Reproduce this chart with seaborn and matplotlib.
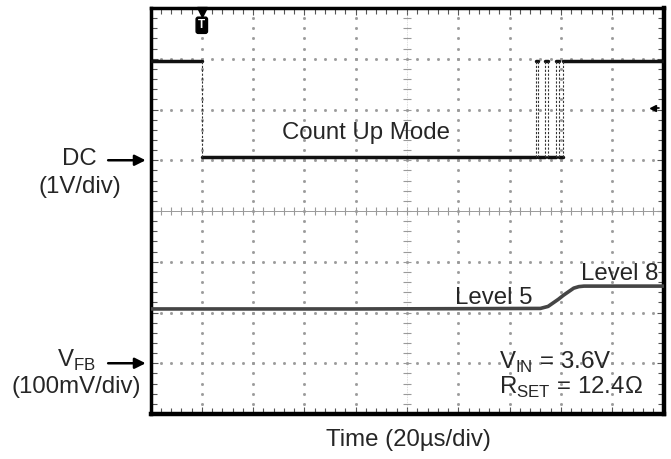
import seaborn as sns
import matplotlib.pyplot as plt
import numpy as np
import pandas as pd
from matplotlib.ticker import MultipleLocator

sns.set_style("white")
plt.rcParams['font.family'] = ['Liberation Sans', 'DejaVu Sans']
plt.rcParams['mathtext.fontset'] = 'custom'
plt.rcParams['mathtext.rm'] = 'Liberation Sans'

# Scope settings (10 x 8 divisions)
time_per_div = 20.0      # us/div
dc_volts_per_div = 1.0   # V/div
fb_volts_per_div = 0.1   # V/div
dc_ground_div = 5.0
fb_ground_div = 1.0
trigger_time = 20.0      # us
trigger_level = 1.03     # V on DC channel

# DC channel: logic levels (V) and edge times (us), starts high
dc_high = 1.95
dc_low = 0.06
dc_edges = [20.0, 150.1, 151.1, 153.8, 155.0, 158.1, 159.3, 160.9]

# VFB channel: time (us) and voltage (mV)
fb_time = [0, 40, 80, 120, 150, 152, 155, 157, 159, 161, 163, 165, 167, 169, 180, 200]
fb_mv = [107, 107, 107, 107.5, 108, 108, 112, 119, 126, 134, 141, 148, 151, 152, 152, 152]

# Build DC level segments
bounds = [0.0] + dc_edges + [10 * time_per_div]
rows = []
for i in range(len(bounds) - 1):
    lvl = dc_high if i % 2 == 0 else dc_low
    for t in (bounds[i], bounds[i + 1]):
        rows.append({'t': t, 'div': dc_ground_div + lvl / dc_volts_per_div, 'seg': i})
dc_df = pd.DataFrame(rows)

fb_df = pd.DataFrame({'t': fb_time,
                      'div': fb_ground_div + np.array(fb_mv) / 1000 / fb_volts_per_div})

fig = plt.figure(figsize=(6.71, 4.59), dpi=100)
ax = fig.add_axes([150.5 / 671, (459 - 414) / 459, 513 / 671, 406 / 459])
ax.set_xlim(0, 10 * time_per_div)
ax.set_ylim(0, 8)

# Graticule: dotted major lines and center crosshair with ticks
grid_c = '#9a9a9a'
ys = np.arange(0, 8.01, 0.2)
xs = np.arange(0, 200.01, time_per_div / 5)
for gx in np.arange(time_per_div, 200, time_per_div):
    if gx == 100:
        continue
    ax.plot(np.full_like(ys, gx), ys, ls='none', marker='s', ms=1.0, color=grid_c, zorder=1)
for gy in range(1, 8):
    if gy == 4:
        continue
    ax.plot(xs, np.full_like(xs, gy), ls='none', marker='s', ms=1.0, color=grid_c, zorder=1)
ax.axhline(4, color=grid_c, lw=0.7, zorder=1)
ax.axvline(100, color=grid_c, lw=0.4, ls=(0, (1, 2)), zorder=1)
ax.plot(xs, np.full_like(xs, 4), ls='none', marker='|', ms=6, mew=0.8, color=grid_c, zorder=1)
ax.plot(np.full_like(ys, 100), ys, ls='none', marker='_', ms=6, mew=0.8, color=grid_c, zorder=1)

# Traces
sns.lineplot(data=dc_df, x='t', y='div', units='seg', estimator=None, sort=False,
             color='#111111', lw=2.5, ax=ax, zorder=3)
dc_hi_div = dc_ground_div + dc_high / dc_volts_per_div
dc_lo_div = dc_ground_div + dc_low / dc_volts_per_div
ax.vlines(dc_edges, dc_lo_div, dc_hi_div, colors='#333333', lw=0.8, ls=(0, (2, 1.5)), zorder=3)
sns.lineplot(data=fb_df, x='t', y='div', color='#454545', lw=2.6, ax=ax, zorder=3)

# Trigger markers
ax.plot(trigger_time, 7.92, marker='v', ms=7, color='k', clip_on=False, zorder=5)
ax.text(trigger_time, 7.66, 'T', ha='center', va='center', fontsize=8.5, fontweight='bold',
        color='white', zorder=5,
        bbox=dict(boxstyle='round,pad=0.18', fc='black', ec='black'))
tl = dc_ground_div + trigger_level / dc_volts_per_div
ax.plot([195.8, 198.2], [tl, tl], color='k', lw=1.2, zorder=5)
ax.plot(195.8, tl, marker='<', ms=4, color='k', zorder=5)

# Ticks on frame
ax.xaxis.set_major_locator(MultipleLocator(time_per_div))
ax.xaxis.set_minor_locator(MultipleLocator(time_per_div / 5))
ax.yaxis.set_major_locator(MultipleLocator(1))
ax.yaxis.set_minor_locator(MultipleLocator(0.2))
ax.tick_params(which='both', direction='in', top=True, right=True, bottom=True, left=True,
               labelbottom=False, labelleft=False, color='#555555', width=0.8)
ax.tick_params(which='major', length=5)
ax.tick_params(which='minor', length=4)
ax.set_xlabel('')
ax.set_ylabel('')
for s in ax.spines.values():
    s.set_linewidth(2.5)
    s.set_color('black')
ax.spines['bottom'].set_linewidth(3.2)
ax.spines['right'].set_linewidth(3.2)

fs = 17.3
ax.text(4.2 * time_per_div, 5.54, 'Count Up Mode', ha='center', va='center', fontsize=fs)
ax.text(6.69 * time_per_div, 2.29, 'Level 5', ha='center', va='center', fontsize=fs)
ax.text(9.15 * time_per_div, 2.76, 'Level 8', ha='center', va='center', fontsize=fs)
ax.text(6.8 * time_per_div, 1.02, r'V$_{\mathregular{IN}}$ = 3.6V', ha='left', va='center', fontsize=fs)
ax.text(6.8 * time_per_div, 0.53, r'R$_{\mathregular{SET}}$ = 12.4Ω', ha='left', va='center', fontsize=fs)

# Channel ground labels and arrows
for gdiv in (dc_ground_div, fb_ground_div):
    ax.annotate('', xy=(-0.004, gdiv), xycoords=('axes fraction', 'data'),
                xytext=(-0.088, gdiv), textcoords=('axes fraction', 'data'),
                arrowprops=dict(arrowstyle='-|>', lw=1.8, color='k', mutation_scale=16),
                annotation_clip=False)
fig.text(97 / 671, 1 - 159 / 459, 'DC', ha='right', va='center', fontsize=fs)
fig.text(80 / 671, 1 - 187 / 459, '(1V/div)', ha='center', va='center', fontsize=fs)
fig.text(96 / 671, 1 - 360 / 459, r'V$_{\mathregular{FB}}$', ha='right', va='center', fontsize=fs)
fig.text(76 / 671, 1 - 387 / 459, '(100mV/div)', ha='center', va='center', fontsize=fs)
fig.text(408 / 671, 1 - 440 / 459, 'Time (20µs/div)', ha='center', va='center', fontsize=fs)

fig.savefig('out.png', dpi=100)
plt.close(fig)
